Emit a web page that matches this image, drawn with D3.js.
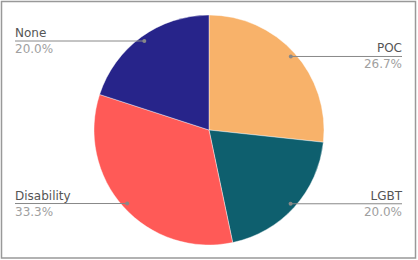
<!DOCTYPE html>
<html><head><meta charset="utf-8">
<script src="https://cdn.jsdelivr.net/npm/d3@7"></script>
<style>html,body{margin:0;padding:0;background:#fff;}svg{display:block;}</style>
</head><body>
<script>
const categories = ["POC", "LGBT", "Disability", "None"];
const values = [26.7, 20.0, 33.3, 20.0];
const percentLabels = ["26.7%", "20.0%", "33.3%", "20.0%"];
const colors = ["#F8B26A", "#0E5F6E", "#FF5A57", "#27248A"];

const W = 418, H = 260;
const cx = 209, cy = 130, R = 115, dotR = 110;
const svg = d3.select("body").append("svg").attr("width", W).attr("height", H);

// frame
svg.append("rect").attr("x", 1.5).attr("y", 1.5).attr("width", 414).attr("height", 256.5)
  .attr("fill", "none").attr("stroke", "#999").attr("stroke-width", 1.5);

const data = categories.map((c, i) => ({cat: c, value: values[i], label: percentLabels[i], color: colors[i]}));
const pie = d3.pie().value(d => d.value).sort(null);
const arcs = pie(data);
const arc = d3.arc().innerRadius(0).outerRadius(R);
const g = svg.append("g").attr("transform", `translate(${cx},${cy})`);
g.selectAll("path").data(arcs).enter().append("path")
  .attr("d", arc).attr("fill", d => d.data.color)
  .attr("stroke", "#fff").attr("stroke-width", 0.4);

const lblArc = d3.arc().innerRadius(dotR).outerRadius(dotR);
const leftX = 15, rightX = 402;
arcs.forEach(a => {
  const [px, py] = lblArc.centroid(a);
  const x = cx + px, y = cy + py;
  const right = px > 0;
  const endX = right ? rightX : leftX;
  svg.append("line").attr("x1", x).attr("y1", y).attr("x2", endX).attr("y2", y)
    .attr("stroke", "#888").attr("stroke-width", 1);
  svg.append("circle").attr("cx", x).attr("cy", y).attr("r", 2).attr("fill", "#888");
  const anchor = right ? "end" : "start";
  svg.append("text").attr("x", endX).attr("y", y - 4).attr("text-anchor", anchor)
    .attr("font-family", "DejaVu Sans").attr("font-size", 12).attr("fill", "#555").text(a.data.cat);
  svg.append("text").attr("x", endX).attr("y", y + 12).attr("text-anchor", anchor)
    .attr("font-family", "DejaVu Sans").attr("font-size", 12).attr("fill", "#A0A0A0").text(a.data.label);
});
</script>
</body></html>
